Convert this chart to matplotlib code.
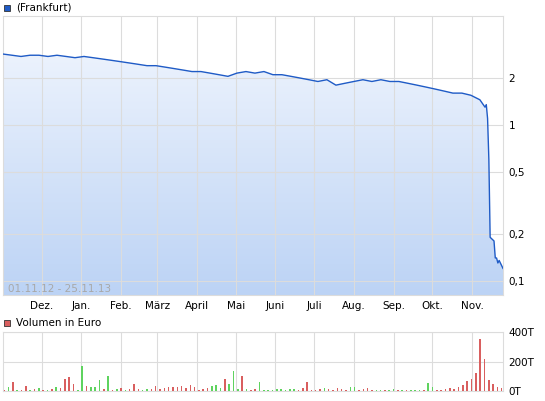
import matplotlib
matplotlib.use("Agg")
import matplotlib.pyplot as plt
import matplotlib.dates as mdates
import numpy as np
import pandas as pd

# weekly closes from 01.11.12, then daily tail in November 2013
weekly_price = [2.85, 2.8, 2.75, 2.8,
                2.8, 2.75, 2.8, 2.75, 2.7,
                2.75, 2.7, 2.65, 2.6, 2.55,
                2.5, 2.45, 2.4, 2.4,
                2.35, 2.3, 2.25, 2.2,
                2.2, 2.15, 2.1, 2.05,
                2.15, 2.2, 2.15, 2.2, 2.1,
                2.1, 2.05, 2.0, 1.95,
                1.9, 1.95, 1.8, 1.85,
                1.9, 1.95, 1.9, 1.95, 1.9,
                1.9, 1.85, 1.8, 1.75,
                1.7, 1.65, 1.6, 1.6, 1.55,
                1.45]
tail_dates = ["2013-11-11", "2013-11-12", "2013-11-13", "2013-11-14", "2013-11-15",
              "2013-11-18", "2013-11-19", "2013-11-20", "2013-11-21", "2013-11-22",
              "2013-11-25"]
tail_price = [1.3, 1.35, 1.1, 0.6, 0.19, 0.18, 0.14, 0.14, 0.13, 0.135, 0.12]

# volume in thousand euro, roughly two samples per week
volume = [10, 25, 60, 8, 5, 35, 10, 15, 20, 8, 5, 15, 30, 20, 80, 95, 45, 10, 170, 35,
          30, 25, 75, 15, 100, 10, 12, 20, 10, 15, 50, 15, 10, 15, 15, 35, 12, 20, 30, 25,
          30, 35, 20, 40, 25, 10, 15, 20, 35, 40, 20, 80, 45, 135, 15, 100, 15, 10, 12, 60,
          8, 5, 10, 12, 15, 10, 12, 15, 10, 20, 60, 8, 5, 15, 20, 15, 10, 20, 15, 10,
          25, 30, 10, 15, 20, 10, 8, 5, 10, 8, 12, 5, 5, 10, 8, 5, 10, 8, 55, 30,
          8, 10, 15, 20, 15, 25, 40, 70, 80, 120, 350, 215, 75, 50, 25, 20]
vol_colors = "rgrgrrgrgrgrgrrrrggr" "gggrgrgrgrrrggrrrrrr" "rrrrrrrrgggrgggrgrrg" \
             "ggggggggrrrrrrgrrrrr" "ggrrrrggrggrgrgggrgg" "rrrrrrrrrrrrrrrr"

months = ["Dez.", "Jan.", "Feb.", "März", "April", "Mai", "Juni", "Juli",
          "Aug.", "Sep.", "Okt.", "Nov."]
month_starts = pd.date_range("2012-12-01", "2013-11-01", freq="MS")

dates = list(pd.date_range("2012-11-01", periods=len(weekly_price), freq="7D")) + \
    list(pd.to_datetime(tail_dates))
price = np.array(weekly_price + tail_price)
x = mdates.date2num(dates)
start, end = mdates.date2num(pd.Timestamp("2012-11-01")), mdates.date2num(pd.Timestamp("2013-11-25"))

GRID = "#dcdcdc"
LINE = "#1f5bc6"

fig = plt.figure(figsize=(5.45, 4.01), dpi=100)
ax = fig.add_axes([3 / 545, 1 - 295 / 401, 500 / 545, 279 / 401])
ax.set_yscale("log")
ax.set_xlim(start, end)
ax.set_ylim(0.081, 5.0)

# gradient fill under the line, drawn in axes coordinates
grad = np.linspace(0, 1, 256).reshape(-1, 1)
cmap = matplotlib.colors.LinearSegmentedColormap.from_list("g", ["#bcd3f5", "#f3f7fe"])
im = ax.imshow(grad, cmap=cmap, aspect="auto", origin="lower",
               extent=[0, 1, 0, 1], transform=ax.transAxes, zorder=1)
poly = ax.fill_between(x, price, 0.081, facecolor="none", edgecolor="none")
im.set_clip_path(poly.get_paths()[0], transform=ax.transData)
ax.set_xlim(start, end)
ax.set_ylim(0.081, 5.0)
ax.plot(x, price, color=LINE, lw=1.0, zorder=3)

ax.set_xticks(mdates.date2num(month_starts))
ax.set_xticklabels(months, fontsize=7.5)
ax.set_yticks([0.1, 0.2, 0.5, 1, 2])
ax.set_yticklabels(["0,1", "0,2", "0,5", "1", "2"], fontsize=7.5)
ax.yaxis.set_minor_locator(matplotlib.ticker.NullLocator())
ax.yaxis.tick_right()
ax.tick_params(length=0, pad=4)
ax.grid(True, color=GRID, lw=0.8, zorder=2)
ax.set_axisbelow(False)
for s in ax.spines.values():
    s.set_color(GRID)
ax.text(0.01, 0.012, "01.11.12 - 25.11.13", transform=ax.transAxes,
        fontsize=7.5, color="#a8a8a8", zorder=4)

vx = mdates.date2num(pd.date_range("2012-11-02", "2013-11-24", periods=len(volume)))
vax = fig.add_axes([3 / 545, 1 - 391 / 401, 500 / 545, 59 / 401])
cols = ["#d95f5f" if c == "r" else "#5fd35f" for c in vol_colors[:len(volume)]]
vax.bar(vx, volume, width=1.2, color=cols, zorder=3)
vax.set_xlim(start, end)
vax.set_ylim(0, 400)
vax.set_xticks(mdates.date2num(month_starts))
vax.set_xticklabels([])
vax.set_yticks([0, 200, 400])
vax.set_yticklabels(["0T", "200T", "400T"], fontsize=7.5)
vax.yaxis.tick_right()
vax.tick_params(length=0, pad=4)
vax.grid(True, color=GRID, lw=0.8, zorder=0)
for s in vax.spines.values():
    s.set_color(GRID)

fig.patches.append(matplotlib.patches.Rectangle((4 / 545, 1 - 11 / 401), 6 / 545, 6 / 401,
                   transform=fig.transFigure, facecolor="#1f5bc6", edgecolor="#333333", lw=0.6))
fig.text(16 / 545, 1 - 8 / 401, "(Frankfurt)", fontsize=7.5, va="center")
fig.patches.append(matplotlib.patches.Rectangle((4 / 545, 1 - 326 / 401), 6 / 545, 6 / 401,
                   transform=fig.transFigure, facecolor="#d95f5f", edgecolor="#333333", lw=0.6))
fig.text(16 / 545, 1 - 323 / 401, "Volumen in Euro", fontsize=7.5, va="center")

fig.savefig("out.png", dpi=100, facecolor="white")
